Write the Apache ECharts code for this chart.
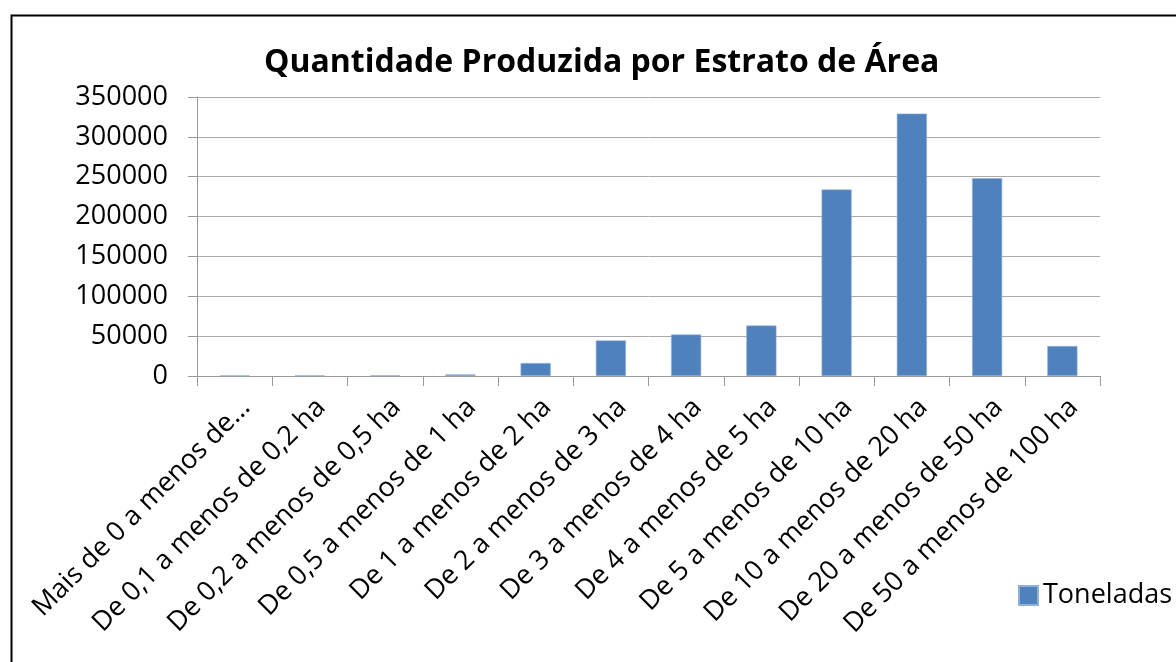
<!DOCTYPE html>
<html>
<head>
<meta charset="utf-8">
<script src="https://cdn.jsdelivr.net/npm/echarts@6/dist/echarts.min.js"></script>
<style>html,body{margin:0;padding:0;background:#fff;}#c{width:1176px;height:662px;}</style>
</head>
<body>
<div id="c"></div>
<script>
const categories = [
  "Mais de 0 a menos de...",
  "De 0,1 a menos de 0,2 ha",
  "De 0,2 a menos de 0,5 ha",
  "De 0,5 a menos de 1 ha",
  "De 1 a menos de 2 ha",
  "De 2 a menos de 3 ha",
  "De 3 a menos de 4 ha",
  "De 4 a menos de 5 ha",
  "De 5 a menos de 10 ha",
  "De 10 a menos de 20 ha",
  "De 20 a menos de 50 ha",
  "De 50 a menos de 100 ha"
];
const toneladas = [700, 800, 900, 2000, 16300, 44500, 52000, 63300, 233900, 329200, 248100, 37600];
const seriesName = "Toneladas";
const titleText = "Quantidade Produzida por Estrato de Área";

const font = "'Open Sans', 'Noto Sans', sans-serif";
const chart = echarts.init(document.getElementById('c'), null, {renderer: 'canvas'});
chart.setOption({
  animation: false,
  backgroundColor: '#fff',
  title: {
    text: titleText,
    left: 259,
    top: 42,
    textStyle: {fontFamily: font, fontWeight: 'bold', fontSize: 32, color: '#000'}
  },
  legend: {
    data: [seriesName],
    left: 1013,
    top: 577,
    icon: 'rect',
    itemWidth: 19,
    itemHeight: 19,
    itemGap: 6,
    textStyle: {fontFamily: font, fontSize: 27, color: '#000', padding: [0, 0, 0, 0]}
  },
  grid: {left: 197, right: 76, top: 97, bottom: 286, containLabel: false},
  xAxis: {
    type: 'category',
    data: categories,
    axisLine: {lineStyle: {color: '#999', width: 1}},
    axisTick: {show: true, length: 10, lineStyle: {color: '#999'}},
    axisLabel: {rotate: 45, interval: 0, fontFamily: font, fontSize: 27, color: '#000', margin: 16, verticalAlign: 'top', lineHeight: 32}
  },
  yAxis: {
    type: 'value',
    min: 0,
    max: 350000,
    interval: 50000,
    axisLine: {show: true, lineStyle: {color: '#999'}},
    axisTick: {show: true, length: 9, lineStyle: {color: '#999'}},
    splitLine: {lineStyle: {color: '#aaa', width: 1}},
    axisLabel: {fontFamily: font, fontSize: 27, color: '#000', margin: 29, formatter: v => String(v)}
  },
  series: [{
    name: seriesName,
    type: 'bar',
    data: toneladas,
    barWidth: '40%',
    itemStyle: {color: '#4F81BD', borderColor: '#8EB0DA', borderWidth: 0.6}
  }],
  graphic: [{
    type: 'rect',
    left: 9, top: 13,
    shape: {width: 1200, height: 700},
    style: {fill: null, stroke: '#000', lineWidth: 2},
    silent: true
  }]
});
</script>
</body>
</html>
